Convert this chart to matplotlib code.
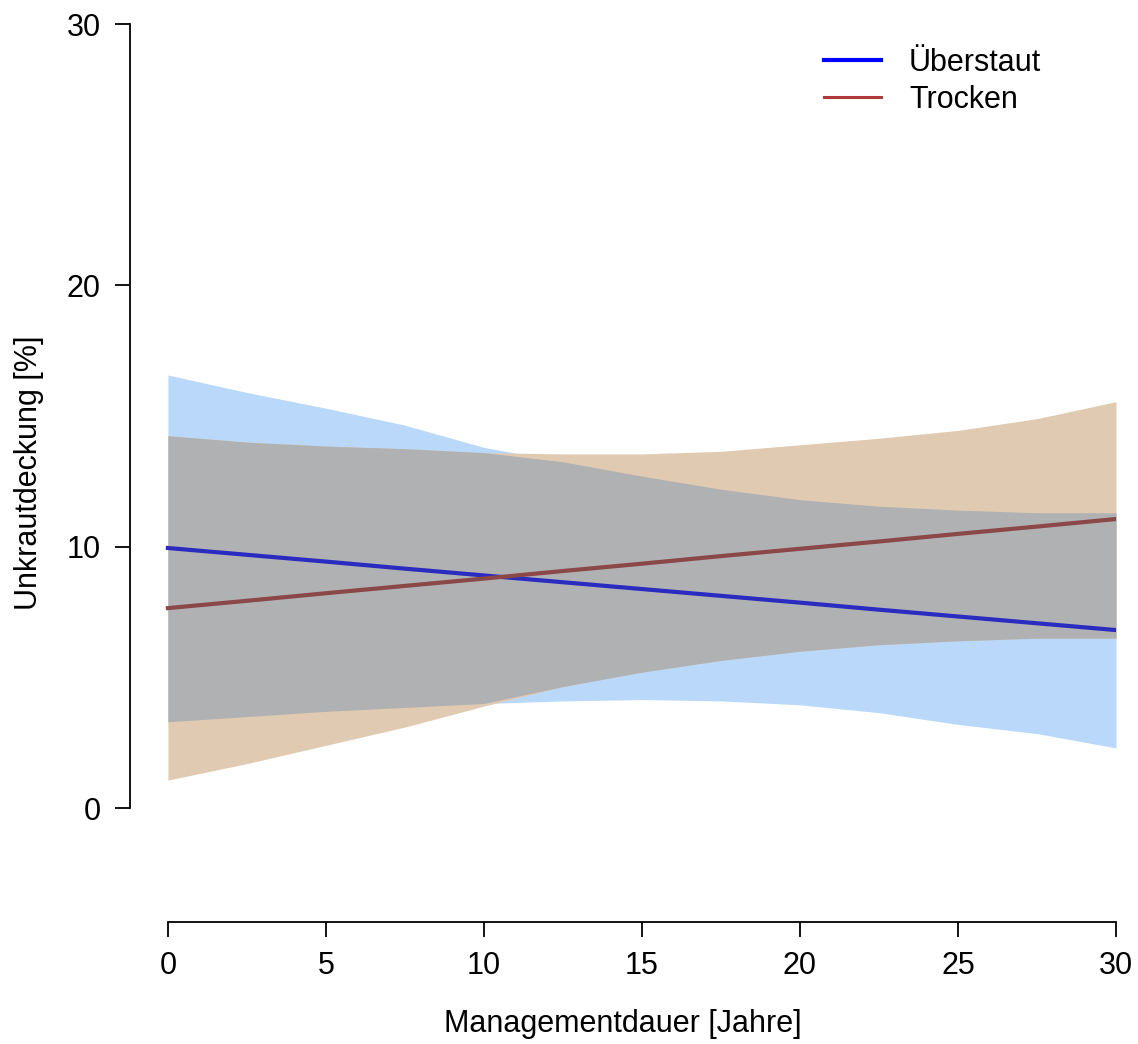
import numpy as np
import matplotlib.pyplot as plt

plt.rcParams['font.family'] = ['Liberation Sans', 'DejaVu Sans']

# Managementdauer in Jahren
jahre = [0, 2.5, 5, 7.5, 10, 12.5, 15, 17.5, 20, 22.5, 25, 27.5, 30]

# Überstaut: Vorhersage und Konfidenzband
ueb_fit = [9.95, 9.69, 9.43, 9.16, 8.90, 8.64, 8.38, 8.12, 7.86, 7.59, 7.33, 7.07, 6.81]
ueb_lo = [3.3, 3.5, 3.7, 3.85, 4.0, 4.1, 4.15, 4.1, 3.95, 3.65, 3.2, 2.85, 2.3]
ueb_hi = [16.57, 15.9, 15.3, 14.65, 13.8, 13.25, 12.7, 12.2, 11.8, 11.55, 11.4, 11.3, 11.3]

# Trocken: Vorhersage und Konfidenzband
tro_fit = [7.65, 7.93, 8.22, 8.50, 8.78, 9.07, 9.35, 9.64, 9.92, 10.20, 10.49, 10.77, 11.06]
tro_lo = [1.07, 1.7, 2.4, 3.1, 3.9, 4.65, 5.2, 5.65, 6.0, 6.25, 6.4, 6.5, 6.5]
tro_hi = [14.25, 14.0, 13.85, 13.75, 13.6, 13.55, 13.55, 13.65, 13.9, 14.15, 14.45, 14.9, 15.55]

x = np.array(jahre)
ueb_lo, ueb_hi = np.array(ueb_lo), np.array(ueb_hi)
tro_lo, tro_hi = np.array(tro_lo), np.array(tro_hi)

fig = plt.figure(figsize=(11.38, 10.44), dpi=100)
ax = fig.add_axes([130 / 1138, 122 / 1044, (1116 - 130) / 1138, (1020 - 122) / 1044])
ax.set_xlim(-1.2, 30)
ax.set_ylim(-4.36, 30)

ax.fill_between(x, ueb_lo, ueb_hi, color='#b9d8fa', lw=0)
ax.fill_between(x, tro_lo, tro_hi, color='#e0cbb2', lw=0)
# Überlappung beider Bänder
ov_lo = np.maximum(ueb_lo, tro_lo)
ov_hi = np.minimum(ueb_hi, tro_hi)
ax.fill_between(x, ov_lo, ov_hi, where=ov_hi > ov_lo, color='#b0b1b3', lw=0)

ax.plot(x, ueb_fit, color='#2b2bbf', lw=3)
ax.plot(x, tro_fit, color='#8b4848', lw=3)

for s in ['top', 'right']:
    ax.spines[s].set_visible(False)
ax.spines['left'].set_bounds(0, 30)
ax.spines['bottom'].set_bounds(0, 30)
for s in ['left', 'bottom']:
    ax.spines[s].set_linewidth(1.3)

ax.set_xticks([0, 5, 10, 15, 20, 25, 30])
ax.set_yticks([0, 10, 20, 30])
ax.tick_params(direction='out', length=11, width=1.3, labelsize=22, pad=10)
ax.set_xlabel('Managementdauer [Jahre]', fontsize=22, labelpad=20)
ax.set_ylabel('Unkrautdeckung [%]', fontsize=22, labelpad=16)

ax.plot([], [], color='#0000ff', lw=3, label='Überstaut')
ax.plot([], [], color='#b03a3a', lw=2.2, label='Trocken')
h, l = ax.get_legend_handles_labels()
ax.legend(h[-2:], l[-2:], loc='upper right', bbox_to_anchor=(0.952, 1.004), frameon=False,
          fontsize=22, handlelength=1.87, handletextpad=0.9, labelspacing=0.22)

fig.savefig('out.png', dpi=100)
